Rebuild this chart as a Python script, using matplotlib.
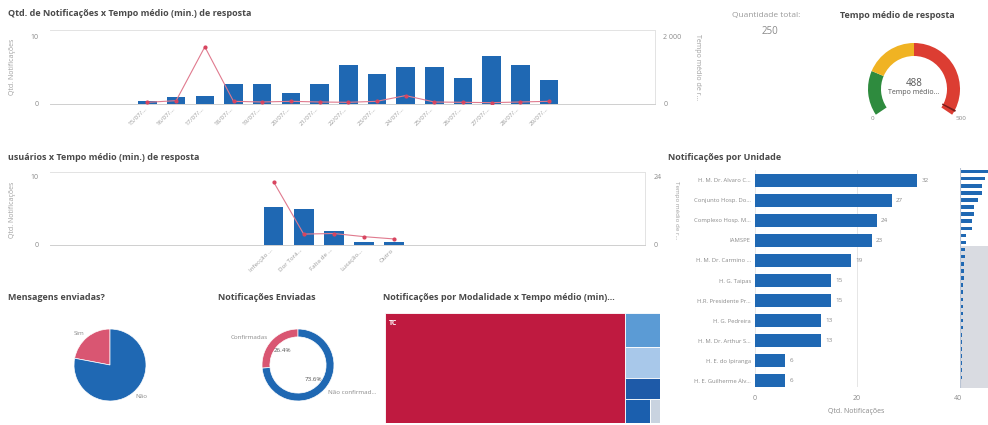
import matplotlib.pyplot as plt
from matplotlib.patches import Wedge, Rectangle

plt.rcParams['font.family'] = ['Open Sans', 'DejaVu Sans']

W, H = 988, 425

BLUE = "#1f68b3"
PINK = "#d95672"
GRAY = "#8a8a8a"
TITLE = "#4a4a4a"

# --- data ---------------------------------------------------------------
dias = ["15/07/...", "16/07/...", "17/07/...", "18/07/...", "19/07/...",
        "20/07/...", "21/07/...", "22/07/...", "23/07/...", "24/07/...",
        "25/07/...", "26/07/...", "27/07/...", "28/07/...", "29/07/..."]
qtd_dia = [0.4, 1, 1.2, 3, 3, 1.6, 3, 5.8, 4.4, 5.5, 5.5, 3.9, 7.1, 5.8, 3.5]
tempo_dia = [50, 100, 1700, 80, 60, 80, 60, 50, 80, 250, 60, 50, 40, 60, 80]

motivos = ["Infecção ...", "Dor Torá...", "Falta de ...", "Luxação...", "Outro"]
qtd_motivo = [5.5, 5.2, 2.1, 0.5, 0.4]
tempo_motivo = [22, 3.8, 4.0, 2.9, 2.1]

quantidade_total = 250
tempo_medio = 488
gauge_max = 500
gauge_faixas = [0, 115, 250, 500]
gauge_cores = ["#2e8b3e", "#f0b323", "#dc3d32"]

msg_labels = ["Sim", "Não"]
msg_values = [55, 195]

env_labels = ["Confirmadas", "Não confirmad..."]
env_values = [66, 184]

modalidades = ["TC", "RM", "RX", "US", "ECO", "OUT"]
mod_values = [218, 10, 9, 6, 5, 2]
mod_cores = ["#bf1a40", "#5b9bd5", "#a8c8ea", "#1e5aa8", "#1b5fae", "#c9d3e0"]

unidades = ["H. M. Dr. Alvaro C...", "Conjunto Hosp. Do...", "Complexo Hosp. M...",
            "IAMSPE", "H. M. Dr. Carmino ...", "H. G. Taipas",
            "H.R. Presidente Pr...", "H. G. Pedreira", "H. M. Dr. Arthur S...",
            "H. E. do Ipiranga", "H. E. Guilherme Álv..."]
qtd_unidade = [32, 27, 24, 23, 19, 15, 15, 13, 13, 6, 6]
qtd_outras = [5, 5, 4, 4, 4, 3, 3, 3, 3, 3, 3, 3, 2, 2, 2, 2, 2, 2, 2]


fig = plt.figure(figsize=(W / 100, H / 100), dpi=100)
fig.patch.set_facecolor("white")


def ax_px(x0, y0, x1, y1):
    return fig.add_axes([x0 / W, 1 - y1 / H, (x1 - x0) / W, (y1 - y0) / H])


def txt(x, y, s, **kw):
    kw.setdefault("color", GRAY)
    kw.setdefault("fontsize", 5)
    kw.setdefault("va", "center")
    fig.text(x / W, 1 - y / H, s, **kw)


def combo(ax, labels, qtd, tempo, xlim, ylim, ymax, tlim, tmax, tlabel):
    x = range(len(labels))
    ax.bar(x, qtd, width=0.65, color=BLUE, zorder=2)
    ax.set_xlim(*xlim)
    ax.set_ylim(0, ylim)
    ax.set_yticks([0, ymax])
    ax.set_xticks(list(x))
    ax.set_xticklabels(labels, rotation=45, ha="right", fontsize=4.5, color="#9a9a9a")
    ax.tick_params(axis="y", length=0, labelsize=5, labelcolor=GRAY, pad=8)
    ax.tick_params(axis="x", length=0, pad=2)
    for s in ax.spines.values():
        s.set_color("#e3e3e3")
        s.set_linewidth(0.7)
    ax.spines["left"].set_visible(False)
    ax.spines["bottom"].set_color("#cfcfcf")
    ax2 = ax.twinx()
    ax2.plot(list(x), tempo, color="#e07a8e", lw=0.8, marker="o", ms=2,
             mfc="#d8455f", mec="#d8455f", zorder=3)
    ax2.set_ylim(0, tlim)
    ax2.set_yticks([0, tmax])
    ax2.set_yticklabels(["0", tlabel])
    ax2.tick_params(axis="y", length=0, labelsize=5, labelcolor=GRAY, pad=6)
    for s in ax2.spines.values():
        s.set_visible(False)


# --- top combo chart ---------------------------------------------------
txt(8, 14, "Qtd. de Notificações x Tempo médio (min.) de resposta",
    fontsize=6.5, color=TITLE, fontweight="bold")
ax1 = ax_px(50, 30, 655, 104)
combo(ax1, dias, qtd_dia, tempo_dia, (-3.4, 17.7), 11, 10, 2200, 2000, "2 000")
txt(12, 67, "Qtd. Notificações", rotation=90, ha="center", color="#a0a0a0")
txt(697, 67, "Tempo médio de r...", rotation=270, ha="center", color="#a0a0a0")

# --- middle combo chart ------------------------------------------------
txt(8, 157, "usuários x Tempo médio (min.) de resposta",
    fontsize=6.5, color=TITLE, fontweight="bold")
ax3 = ax_px(50, 172, 645, 245)
combo(ax3, motivos, qtd_motivo, tempo_motivo, (-7.4, 12.3), 10.6, 10, 25.4, 24, "24")
txt(12, 210, "Qtd. Notificações", rotation=90, ha="center", color="#a0a0a0")
txt(676, 210, "Tempo médio de r...", rotation=270, ha="center", color="#a0a0a0",
    fontsize=4.5)

# --- KPI and gauge -----------------------------------------------------
txt(766, 16, "Quantidade total:", ha="center", fontsize=6, color="#9a9a9a")
txt(770, 32, str(quantidade_total), ha="center", fontsize=7, color="#8a8a8a")
txt(897, 15, "Tempo médio de resposta", ha="center", fontsize=6.5,
    color=TITLE, fontweight="bold")

axg = ax_px(859, 39, 969, 129)
axg.set_xlim(-55, 55)
axg.set_ylim(-40, 50)
axg.axis("off")
a0, span = 214, 248
for lo, hi, c in zip(gauge_faixas[:-1], gauge_faixas[1:], gauge_cores):
    t2 = a0 - lo / gauge_max * span
    t1 = a0 - hi / gauge_max * span
    axg.add_patch(Wedge((0, 0), 46, t1, t2, width=13, color=c, lw=0))
ang = a0 - tempo_medio / gauge_max * span
axg.add_patch(Wedge((0, 0), 47, ang - 1.2, ang + 1.2, width=15, color="#7a1d1a", lw=0))
axg.text(0, 6, str(tempo_medio), ha="center", va="center", fontsize=7, color="#555555")
axg.text(0, -4, "Tempo médio...", ha="center", va="center", fontsize=5, color="#555555")
txt(872, 119, "0", ha="center", fontsize=4.5)
txt(961, 119, str(gauge_max), ha="center", fontsize=4.5)

# --- horizontal bars ---------------------------------------------------
txt(668, 157, "Notificações por Unidade", fontsize=6.5, color=TITLE, fontweight="bold")
axh = ax_px(755, 170, 958, 387)
yy = range(len(unidades))
axh.barh(list(yy), qtd_unidade, height=0.65, color=BLUE, zorder=2)
for i, v in enumerate(qtd_unidade):
    axh.text(v + 0.8, i, str(v), va="center", fontsize=4.5, color=GRAY)
axh.set_xlim(0, 40)
axh.set_ylim(10.3, -0.5)
axh.set_yticks(list(yy))
axh.set_yticklabels(unidades, fontsize=4.2, color=GRAY)
axh.set_xticks([0, 20, 40])
axh.tick_params(length=0, labelsize=5, labelcolor=GRAY, pad=3)
axh.tick_params(axis="y", labelsize=4.2)
axh.tick_params(axis="x", pad=6)
axh.grid(axis="x", color="#e6e6e6", lw=0.7, zorder=0)
for s in axh.spines.values():
    s.set_visible(False)
axh.set_xlabel("Qtd. Notificações", fontsize=5, color=GRAY, labelpad=4)

# mini scroll chart
axm = ax_px(960, 168, 988, 388)
todas = qtd_unidade + qtd_outras
ym = range(len(todas))
axm.axhspan(len(qtd_unidade) - 0.5, len(todas) + 0.5, color="#d9dbe1", lw=0)
axm.barh(list(ym), todas, height=0.5, color=BLUE)
axm.set_xlim(-0.5, 30)
axm.set_ylim(len(todas) + 0.5, -0.5)
axm.set_xticks([])
axm.set_yticks([])
for s in axm.spines.values():
    s.set_visible(False)
axm.axvline(-0.3, color="#b9c3d3", lw=0.8)

# --- pie ---------------------------------------------------------------
txt(8, 298, "Mensagens enviadas?", fontsize=6.5, color=TITLE, fontweight="bold")
axp = ax_px(65, 320, 155, 410)
axp.pie(msg_values, labels=msg_labels, colors=[PINK, BLUE], startangle=90,
        counterclock=True, labeldistance=1.12,
        wedgeprops=dict(edgecolor="white", linewidth=0.5),
        textprops=dict(fontsize=4.5, color=GRAY))
axp.set_aspect("equal")

# --- donut -------------------------------------------------------------
txt(218, 298, "Notificações Enviadas", fontsize=6.5, color=TITLE, fontweight="bold")
axd = ax_px(253, 320, 343, 410)
wedges, labs, pcts = axd.pie(env_values, labels=env_labels, colors=[PINK, BLUE],
                             startangle=90, counterclock=True, labeldistance=1.12,
                             autopct="%.1f%%", pctdistance=0.6,
                             wedgeprops=dict(width=0.22, edgecolor="white", linewidth=0.5),
                             textprops=dict(fontsize=4.5, color=GRAY))
for p in pcts:
    p.set_color("#555555")
axd.set_aspect("equal")

# --- treemap -----------------------------------------------------------
txt(383, 298, "Notificações por Modalidade x Tempo médio (min)...",
    fontsize=6.5, color=TITLE, fontweight="bold")
axt = ax_px(385, 313, 660, 423)
axt.set_xlim(0, 1)
axt.set_ylim(1, 0)
axt.axis("off")
total = sum(mod_values)
w0 = mod_values[0] / total
axt.add_patch(Rectangle((0, 0), w0, 1, facecolor=mod_cores[0], edgecolor="white", lw=0.6))
axt.text(0.015, 0.06, modalidades[0], color="white", fontsize=5, va="top", fontweight="bold")
resto = sum(mod_values[1:])
y = 0
for v, c in zip(mod_values[1:4], mod_cores[1:4]):
    h = v / resto
    axt.add_patch(Rectangle((w0, y), 1 - w0, h, facecolor=c, edgecolor="white", lw=0.6))
    y += h
ult = sum(mod_values[4:])
x = w0
for v, c in zip(mod_values[4:], mod_cores[4:]):
    w = (1 - w0) * v / ult
    axt.add_patch(Rectangle((x, y), w, 1 - y, facecolor=c, edgecolor="white", lw=0.6))
    x += w

fig.savefig("out.png", dpi=100, facecolor="white")
